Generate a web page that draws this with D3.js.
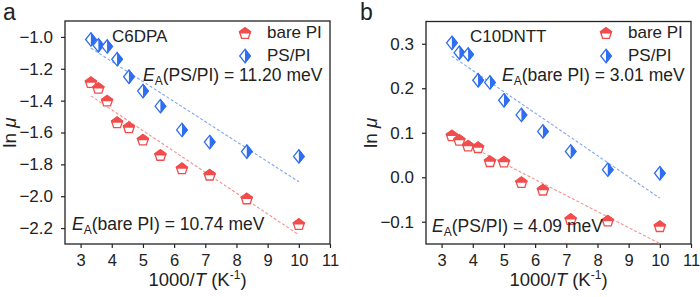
<!DOCTYPE html>
<html>
<head>
<meta charset="utf-8">
<script src="https://cdn.jsdelivr.net/npm/d3@7"></script>
<style>
  body { margin: 0; background: #fff; }
  svg { font-family: "Liberation Sans", Arial, sans-serif; }
</style>
</head>
<body>
<div id="chart"></div>
<script>
// 1000/T values (K^-1), shared by both panels
const invT = [3.33, 3.57, 3.85, 4.17, 4.55, 5.00, 5.56, 6.25, 7.14, 8.33, 10.0];

// panel a: C6DPA
const c6dpaBare = [-1.284, -1.32, -1.40, -1.536, -1.567, -1.645, -1.741, -1.825, -1.865, -2.014, -2.175];
const c6dpaPS   = [-1.016, -1.053, -1.06, -1.14, -1.25, -1.34, -1.435, -1.584, -1.66, -1.72, -1.75];

// panel b: C10DNTT
const c10Bare = [0.094, 0.084, 0.071, 0.0675, 0.036, 0.035, -0.011, -0.028, -0.094, -0.0975, -0.110];
const c10PS   = [0.302, 0.280, 0.276, 0.218, 0.213, 0.173, 0.140, 0.103, 0.058, 0.017, 0.009];

// linear fit end points
const fitX = [3.33, 10];
const c6dpaBareFit = [-1.37, -2.242];
const c6dpaPSFit   = [-1.07, -1.909];
const c10BareFit   = [0.091, -0.149];
const c10PSFit     = [0.272, -0.047];

const xTicks = [3, 4, 5, 6, 7, 8, 9, 10, 11];
const aTicks = [-1.0, -1.2, -1.4, -1.6, -1.8, -2.0, -2.2];
const bTicks = [0.3, 0.2, 0.1, 0.0, -0.1];

const red = "#f24d4d", redLine = "#f59090";
const blue = "#2f6ef0", blueLine = "#7fa6f2";
const ink = "#222";

const svg = d3.select("#chart").append("svg")
  .attr("width", 700).attr("height", 297);

const defs = svg.append("defs");
defs.append("clipPath").attr("id", "topHalf")
  .append("rect").attr("x", -10).attr("y", -10).attr("width", 20).attr("height", 10.5);
defs.append("clipPath").attr("id", "rightHalf")
  .append("rect").attr("x", 0).attr("y", -10).attr("width", 10).attr("height", 20);

// pentagon (house-like), top half filled
const pent = (() => {
  const r = 5.8;
  const pts = [-90, -18, 54, 126, 198].map(a => [r * Math.cos(a * Math.PI / 180), r * Math.sin(a * Math.PI / 180) + 0.6]);
  return d3.line()(pts) + "Z";
})();
const diamond = "M0,-6.6L5.3,0L0,6.6L-5.3,0Z";

function bareMarker(g) {
  g.append("path").attr("d", pent).attr("fill", "#fff").attr("stroke", red).attr("stroke-width", 1.3);
  g.append("path").attr("d", pent).attr("fill", red).attr("stroke", red).attr("stroke-width", 1.3)
    .attr("clip-path", "url(#topHalf)");
}
function psMarker(g) {
  g.append("path").attr("d", diamond).attr("fill", "#fff").attr("stroke", blue).attr("stroke-width", 1.3);
  g.append("path").attr("d", diamond).attr("fill", blue).attr("stroke", blue).attr("stroke-width", 1.3)
    .attr("clip-path", "url(#rightHalf)");
}

function panel(p) {
  const x = d3.scaleLinear().domain([2.5, 11]).range([p.left, p.right]);
  const y = d3.scaleLinear().domain(p.yDomain).range([244, p.top]);
  const g = svg.append("g");

  g.append("g")
    .attr("transform", "translate(0,244)")
    .call(d3.axisBottom(x).tickValues(xTicks).tickFormat(d3.format("d")).tickSize(4).tickPadding(6).tickSizeOuter(0))
    .call(a => a.select(".domain").remove())
    .call(a => a.selectAll("line").attr("stroke", ink).attr("stroke-width", 1.2))
    .call(a => a.selectAll("text").attr("font-size", 16.5).attr("fill", ink).attr("font-family", "Liberation Sans, Arial"));

  g.append("g")
    .attr("transform", `translate(${p.left},0)`)
    .call(d3.axisLeft(y).tickValues(p.yTicks).tickFormat(p.fmt).tickSize(4).tickPadding(8).tickSizeOuter(0))
    .call(a => a.select(".domain").remove())
    .call(a => a.selectAll("line").attr("stroke", ink).attr("stroke-width", 1.2))
    .call(a => a.selectAll("text").attr("font-size", 17).attr("fill", ink).attr("font-family", "Liberation Sans, Arial"));

  g.append("rect")
    .attr("x", p.left).attr("y", p.top)
    .attr("width", p.right - p.left).attr("height", 244 - p.top)
    .attr("fill", "none").attr("stroke", ink).attr("stroke-width", 1.3);

  // fit lines
  const line = d3.line().x(d => x(d[0])).y(d => y(d[1]));
  [[p.bareFit, redLine], [p.psFit, blueLine]].forEach(([f, c]) => {
    g.append("path").datum(fitX.map((v, i) => [v, f[i]]))
      .attr("d", line).attr("fill", "none").attr("stroke", c)
      .attr("stroke-width", 1.1).attr("stroke-dasharray", "3,2");
  });

  // markers
  g.append("g").selectAll("g").data(invT.map((v, i) => [v, p.ps[i]])).join("g")
    .attr("transform", d => `translate(${x(d[0])},${y(d[1])})`)
    .each(function() { psMarker(d3.select(this)); });
  g.append("g").selectAll("g").data(invT.map((v, i) => [v, p.bare[i]])).join("g")
    .attr("transform", d => `translate(${x(d[0])},${y(d[1])})`)
    .each(function() { bareMarker(d3.select(this)); });

  // legend
  const lx = p.legendX;
  bareMarker(g.append("g").attr("transform", `translate(${lx},33)`));
  psMarker(g.append("g").attr("transform", `translate(${lx},56)`));
  g.append("text").attr("x", lx + 22).attr("y", 38).attr("font-size", 17).attr("fill", ink).text("bare PI");
  g.append("text").attr("x", lx + 22).attr("y", 61).attr("font-size", 17).attr("fill", ink).text("PS/PI");

  // compound name
  g.append("text").attr("x", p.nameX).attr("y", 42).attr("font-size", 17).attr("fill", ink).text(p.name);

  // activation energies
  p.ea.forEach(e => {
    const t = g.append("text").attr("x", e.x).attr("y", e.y).attr("font-size", 17.5).attr("fill", ink)
      .attr("text-anchor", e.anchor || "start");
    t.append("tspan").attr("font-style", "italic").text("E");
    t.append("tspan").attr("font-size", 12).attr("dy", 4).text("A");
    t.append("tspan").attr("dy", -4).text(e.label);
  });

  // axis titles
  const xt = g.append("text").attr("x", (p.left + p.right) / 2).attr("y", 286)
    .attr("text-anchor", "middle").attr("font-size", 18.5).attr("fill", ink);
  xt.append("tspan").text("1000/");
  xt.append("tspan").attr("font-style", "italic").text("T");
  xt.append("tspan").text(" (K");
  xt.append("tspan").attr("font-size", 12).attr("dy", -7).text("-1");
  xt.append("tspan").attr("dy", 7).text(")");

  const yt = g.append("text")
    .attr("transform", `translate(${p.left - 49},${(p.top + 244) / 2}) rotate(-90)`)
    .attr("text-anchor", "middle").attr("font-size", 19).attr("fill", ink);
  yt.append("tspan").text("ln ");
  yt.append("tspan").attr("font-style", "italic").text("μ");

  svg.append("text").attr("x", p.letterX).attr("y", 20).attr("font-size", 23).attr("fill", ink).text(p.letter);
}

panel({
  left: 65, right: 330, top: 21, yDomain: [-2.3, -0.9], yTicks: aTicks, fmt: d3.format(".1f"),
  bare: c6dpaBare, ps: c6dpaPS, bareFit: c6dpaBareFit, psFit: c6dpaPSFit,
  legendX: 245, name: "C6DPA", nameX: 112, letter: "a", letterX: 3,
  ea: [
    {x: 143, y: 81, label: "(PS/PI) = 11.20 meV"},
    {x: 72, y: 230, label: "(bare PI) = 10.74 meV"}
  ]
});

panel({
  left: 426, right: 691, top: 21.5, yDomain: [-0.15, 0.35], yTicks: bTicks, fmt: d3.format(".1f"),
  bare: c10Bare, ps: c10PS, bareFit: c10BareFit, psFit: c10PSFit,
  legendX: 606, name: "C10DNTT", nameX: 470, letter: "b", letterX: 360,
  ea: [
    {x: 502, y: 81, label: "(bare PI) = 3.01 meV"},
    {x: 432, y: 232, label: "(PS/PI) = 4.09 meV"}
  ]
});
</script>
</body>
</html>
